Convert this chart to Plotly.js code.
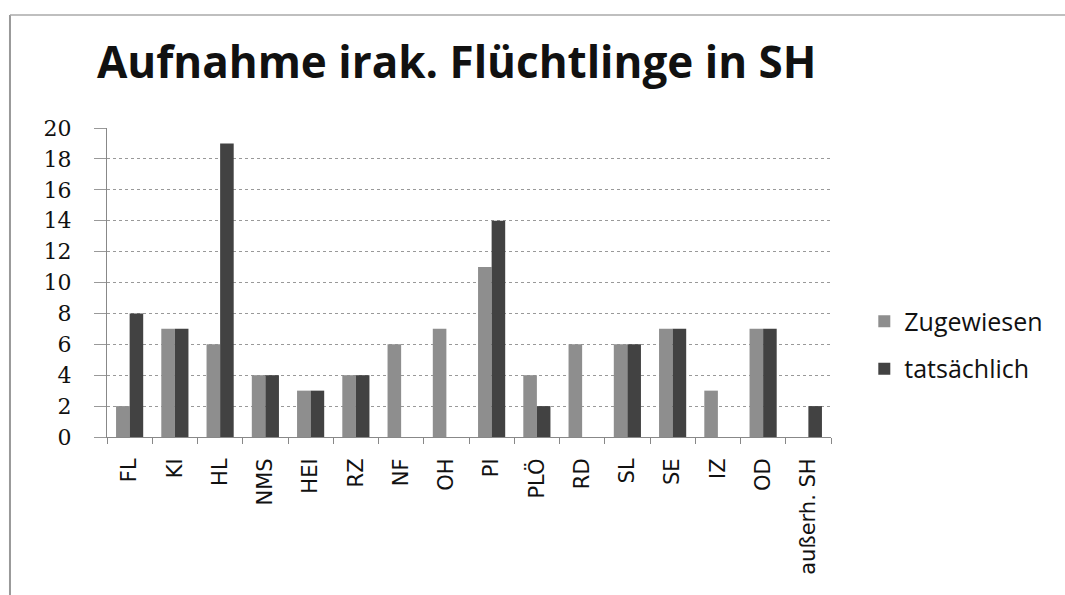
<!DOCTYPE html>
<html>
<head>
<meta charset="utf-8">
<script src="https://cdn.plot.ly/plotly-3.0.1.min.js"></script>
<style>html,body{margin:0;padding:0;background:#fff;}#chart{width:1065px;height:595px;}</style>
</head>
<body>
<div id="chart"></div>
<script>
const categories = ["FL","KI","HL","NMS","HEI","RZ","NF","OH","PI","PLÖ","RD","SL","SE","IZ","OD","außerh. SH"];
const zugewiesen = [2,7,6,4,3,4,6,7,11,4,6,6,7,3,7,0];
const tatsaechlich = [8,7,19,4,3,4,0,0,14,2,0,6,7,0,7,2];
const seriesNames = ["Zugewiesen","tatsächlich"];
const yTicks = [0,2,4,6,8,10,12,14,16,18,20];

const data = [
  {type:"bar", name:seriesNames[0], legendgroup:"a", x:categories, y:zugewiesen, marker:{color:"#8e8e8e"}},
  {type:"bar", name:seriesNames[1], legendgroup:"b", x:categories, y:tatsaechlich, marker:{color:"#424242"}}
];
const layout = {
  width:1065, height:595,
  paper_bgcolor:"#fff", plot_bgcolor:"#fff",
  margin:{l:107, r:234, t:128, b:158},
  barmode:"group", bargap:0.40, bargroupgap:0,
  font:{family:"Open Sans, sans-serif", color:"#111"},
  title:{text:"<b>Aufnahme irak. Flüchtlinge in SH</b>", font:{size:44, family:"Open Sans, sans-serif", color:"#111"}, x:0.091, xanchor:"left", y:0.894, yanchor:"middle"},
  xaxis:{type:"category", tickangle:-90, tickfont:{size:21, family:"DejaVu Sans, sans-serif"}, showline:true, linecolor:"#888", ticks:"outside", ticklen:6, tickcolor:"#888", showgrid:false, tickson:"boundaries", ticklabelstandoff:12},
  yaxis:{range:[0,20], tickvals:yTicks, tickfont:{size:22, family:"DejaVu Serif, serif"}, showline:true, linecolor:"#888", ticks:"outside", ticklen:12, tickcolor:"#999", showgrid:true, gridcolor:"#999", griddash:"dot", gridwidth:1, zeroline:false, ticklabelstandoff:18},
  legend:{x:1.046, y:0.298, xanchor:"left", yanchor:"middle", font:{size:25}, traceorder:"grouped", tracegroupgap:12, itemwidth:30},
  shapes:[
    {type:"line", xref:"paper", yref:"paper", x0:-0.134, x1:-0.134, y0:-0.52, y1:1.3657, line:{color:"#999", width:2}},
    {type:"line", xref:"paper", yref:"paper", x0:-0.134, x1:1.33, y0:1.3657, y1:1.3657, line:{color:"#aaa", width:1.5}}
  ]
};
Plotly.newPlot("chart", data, layout, {displayModeBar:false, staticPlot:true});
</script>
</body>
</html>
